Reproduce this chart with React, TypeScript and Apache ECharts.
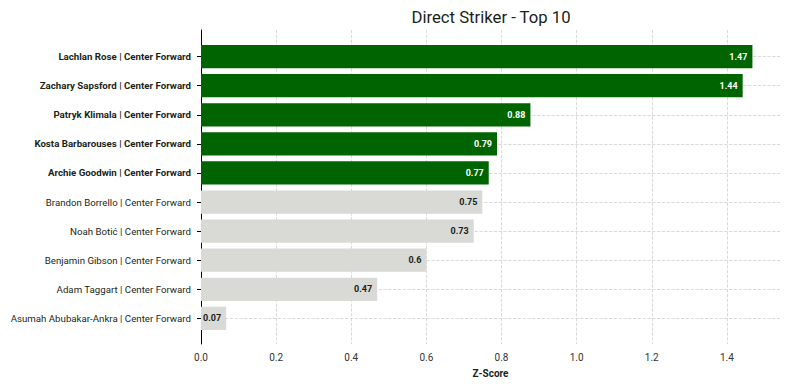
import React, { useEffect, useRef } from "react";
import * as echarts from "echarts";

const players = [
  "Lachlan Rose | Center Forward",
  "Zachary Sapsford | Center Forward",
  "Patryk Klimala | Center Forward",
  "Kosta Barbarouses | Center Forward",
  "Archie Goodwin | Center Forward",
  "Brandon Borrello | Center Forward",
  "Noah Botić | Center Forward",
  "Benjamin Gibson | Center Forward",
  "Adam Taggart | Center Forward",
  "Asumah Abubakar-Ankra | Center Forward",
];
const zScores = [1.468, 1.442, 0.877, 0.788, 0.766, 0.749, 0.726, 0.6, 0.469, 0.067];
const highlighted = [true, true, true, true, true, false, false, false, false, false];
const xTicks = [0, 0.2, 0.4, 0.6, 0.8, 1.0, 1.2, 1.4];

const GREEN = "#006400";
const GREY = "#d9d9d5";
const TEXT = "#1a1f1a";
const FONT = "Roboto";

export default function App() {
  const ref = useRef<HTMLDivElement>(null);
  useEffect(() => {
    if (!ref.current) return;
    const chart = echarts.init(ref.current, null, { renderer: "svg" });
    const xMax = Math.max(...zScores) * 1.05;
    const grid = { type: "dashed" as const, color: "#cfcfcf", width: 0.8 };
    chart.setOption({
      animation: false,
      textStyle: { fontFamily: FONT },
      title: {
        text: "Direct Striker - Top 10",
        left: 486,
        top: 4,
        textAlign: "center",
        textStyle: { fontFamily: FONT, fontSize: 16.7, fontWeight: "normal", color: TEXT },
      },
      grid: [
        { left: 201, right: 10, top: 30, bottom: 46 },
        { left: 201, right: 10, top: 42.1, height: 290.8 },
      ],
      xAxis: [
        {
          type: "value",
          gridIndex: 0,
          min: 0,
          max: xMax,
          interval: 0.2,
          axisLine: { show: false },
          axisTick: { show: false },
          splitLine: { show: true, lineStyle: grid, showMaxLine: false },
          axisLabel: {
            showMaxLabel: false,
            margin: 8,
            fontSize: 10,
            color: "#333",
            fontFamily: FONT,
            formatter: (v: number) => (xTicks.some((t) => Math.abs(t - v) < 1e-6) ? v.toFixed(1) : ""),
          },
          name: "Z-Score",
          nameLocation: "middle",
          nameGap: 24,
          nameTextStyle: { fontFamily: FONT, fontSize: 10, fontWeight: "bold", color: TEXT },
        },
        { type: "value", gridIndex: 1, min: 0, max: xMax, show: false },
      ],
      yAxis: [
        {
          type: "value",
          gridIndex: 0,
          min: 0,
          max: 1,
          axisLine: { show: true, lineStyle: { color: "#000", width: 1 } },
          axisTick: { show: false },
          axisLabel: { show: false },
          splitLine: { show: false },
        },
        {
          type: "category",
          gridIndex: 1,
          inverse: true,
          data: players,
          axisLine: { show: false },
          axisTick: { show: true, alignWithLabel: true, length: 4, lineStyle: { color: "#000" } },
          splitLine: { show: false },
          axisLabel: {
            margin: 10,
            fontFamily: FONT,
            formatter: (v: string, i: number) => (highlighted[i] ? `{b|${v}}` : `{n|${v}}`),
            rich: {
              b: { fontFamily: FONT, fontSize: 9.7, fontWeight: "bold", color: TEXT },
              n: { fontFamily: FONT, fontSize: 9.7, fontWeight: "normal", color: TEXT },
            },
          },
        },
      ],
      series: [
        {
          type: "bar",
          xAxisIndex: 1,
          yAxisIndex: 1,
          barWidth: "80%",
          z: 3,
          data: zScores.map((v, i) => ({
            value: v,
            itemStyle: { color: highlighted[i] ? GREEN : GREY },
            label: { color: highlighted[i] ? "#fff" : TEXT },
          })),
          label: {
            show: true,
            position: "insideRight",
            distance: 5,
            fontFamily: FONT,
            fontSize: 9,
            fontWeight: "bold",
            formatter: (p: any) => String(Math.round(p.value * 100) / 100),
          },
          markLine: {
            silent: true,
            z: 1,
            symbol: ["none", "none"],
            label: { show: false },
            lineStyle: grid,
            emphasis: { disabled: true },
            data: players.map((p) => ({ yAxis: p })),
          },
        },
      ],
    });
    return () => chart.dispose();
  }, []);
  return <div ref={ref} style={{ width: 790, height: 390, position: "absolute", left: 0, top: 0 }} />;
}
